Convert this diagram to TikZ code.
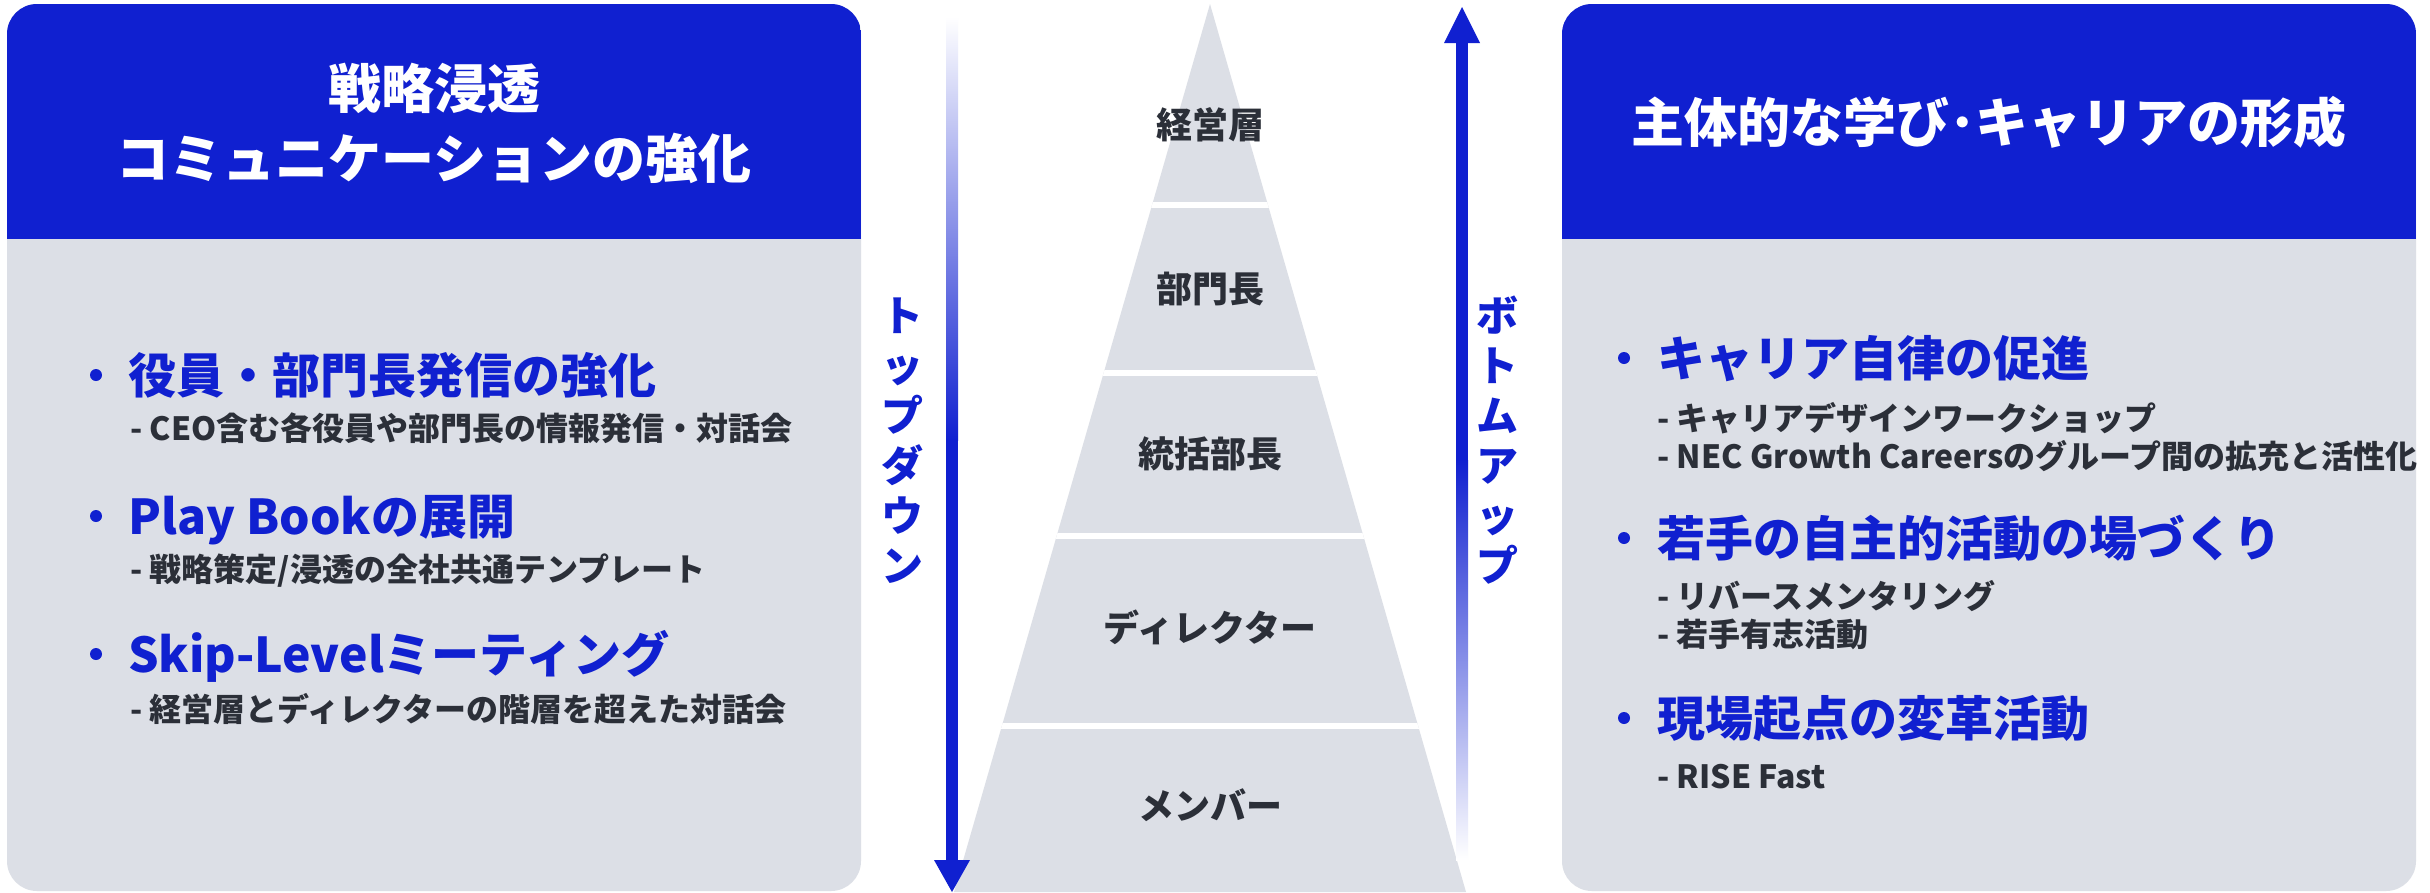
\documentclass[tikz,border=0pt]{standalone}
\usepackage{fontspec}
\setmainfont{Noto Sans CJK JP}
\definecolor{nblue}{RGB}{16,32,208}
\definecolor{pgray}{RGB}{220,223,230}
\definecolor{dtext}{RGB}{43,47,56}
\begin{document}
\begin{tikzpicture}[x=1pt,y=-1pt,
  ttl/.style={text=white,font=\fontsize{53}{60}\selectfont\bfseries,anchor=base,inner sep=0pt},
  hd/.style={text=nblue,font=\fontsize{48}{56}\selectfont\bfseries,anchor=base west,inner sep=0pt},
  sb/.style={text=dtext,font=\fontsize{32}{38}\selectfont\bfseries,anchor=base west,inner sep=0pt},
  lyr/.style={text=dtext,font=\fontsize{36}{42}\selectfont\bfseries,anchor=base,inner sep=0pt},
  vch/.style={text=nblue,font=\fontsize{42}{48}\selectfont\bfseries,anchor=base,inner sep=0pt},
  bul/.style={circle,fill=nblue,minimum size=12pt,inner sep=0pt},
  panel/.style={rounded corners=30pt}
]
\useasboundingbox (0,0) rectangle (2430,892);
\fill[white] (0,0) rectangle (2430,892);

% ---------- left panel ----------
\fill[pgray,panel] (7,4) rectangle (861,891);
\begin{scope}
  \clip[panel] (7,4) rectangle (861,891);
  \fill[nblue] (7,4) rectangle (861,239);
\end{scope}
\node[ttl] (lt1) at (434,108) {戦略浸透};
\node[ttl] (lt2) at (434,178) {コミュニケーションの強化};

\node[bul] (lb1) at (96,375) {};
\node[hd]  (lh1) at (128,393) {役員・部門長発信の強化};
\node[sb]  (ls1) at (130,440) {- CEO含む各役員や部門長の情報発信・対話会};
\node[bul] (lb2) at (96,516) {};
\node[hd]  (lh2) at (128,534) {Play Bookの展開};
\node[sb]  (ls2) at (130,581) {- 戦略策定/浸透の全社共通テンプレート};
\node[bul] (lb3) at (96,654) {};
\node[hd]  (lh3) at (128,672) {Skip-Levelミーティング};
\node[sb]  (ls3) at (130,721) {- 経営層とディレクターの階層を超えた対話会};

% ---------- right panel ----------
\fill[pgray,panel] (1562,4) rectangle (2416,891);
\begin{scope}
  \clip[panel] (1562,4) rectangle (2416,891);
  \fill[nblue] (1562,4) rectangle (2416,239);
\end{scope}
\node[ttl] (rt) at (1989,142) {主体的な学び･キャリアの形成};

\node[bul] (rb1) at (1624,358) {};
\node[hd]  (rh1) at (1657,376) {キャリア自律の促進};
\node[sb]  (rs1a) at (1657,430) {- キャリアデザインワークショップ};
\node[sb]  (rs1b) at (1657,468) {- NEC Growth Careersのグループ間の拡充と活性化};
\node[bul] (rb2) at (1624,538) {};
\node[hd]  (rh2) at (1657,556) {若手の自主的活動の場づくり};
\node[sb]  (rs2a) at (1657,608) {- リバースメンタリング};
\node[sb]  (rs2b) at (1657,646) {- 若手有志活動};
\node[bul] (rb3) at (1624,718) {};
\node[hd]  (rh3) at (1657,736) {現場起点の変革活動};
\node[sb]  (rs3) at (1657,788) {- RISE Fast};

% ---------- pyramid ----------
\coordinate (apex) at (1210,4);
\coordinate (bl) at (954,892);
\coordinate (br) at (1466,892);
\fill[pgray] (apex) -- (bl) -- (br) -- cycle;
\begin{scope}
  \clip (apex) -- (bl) -- (br) -- cycle;
  \foreach \y in {205,373,535.5,726}
    \fill[white] (900,{\y-3}) rectangle (1520,{\y+3});
\end{scope}
\node[lyr] (l1) at (1210,138) {経営層};
\node[lyr] (l2) at (1210,302) {部門長};
\node[lyr] (l3) at (1210,467) {統括部長};
\node[lyr] (l4) at (1210,641) {ディレクター};
\node[lyr] (l5) at (1210,819) {メンバー};

% ---------- top-down arrow ----------
\coordinate (tdtop) at (952,17);
\coordinate (tdfull) at (952,440);
\coordinate (tdhead) at (952,860);
\coordinate (tdtip) at (952,892);
\shade[top color=white,bottom color=nblue] ([xshift=-6pt]tdtop) rectangle ([xshift=6pt]tdfull);
\fill[nblue] ([xshift=-6pt,yshift=1pt]tdfull) rectangle ([xshift=6pt,yshift=-1pt]tdhead);
\fill[nblue] ([xshift=-18pt]tdhead) -- ([xshift=18pt]tdhead) -- (tdtip) -- cycle;

% ---------- bottom-up arrow ----------
\coordinate (butip) at (1462,7);
\coordinate (buhead) at (1462,43);
\coordinate (bufull) at (1462,460);
\coordinate (bubot) at (1462,860);
\shade[top color=nblue,bottom color=white] ([xshift=-6pt]bufull) rectangle ([xshift=6pt]bubot);
\fill[nblue] ([xshift=-6pt,yshift=1pt]buhead) rectangle ([xshift=6pt,yshift=-1pt]bufull);
\fill[nblue] ([xshift=-18pt]buhead) -- ([xshift=18pt]buhead) -- (butip) -- cycle;

% ---------- vertical labels ----------
\foreach \c [count=\i from 0] in {ト,ッ,プ,ダ,ウ,ン}
  \node[vch] (td\i) at (902,{331+50*\i}) {\c};
\foreach \c [count=\i from 0] in {ボ,ト,ム,ア,ッ,プ}
  \node[vch] (bu\i) at (1497,{331+50*\i}) {\c};
\end{tikzpicture}
\end{document}
